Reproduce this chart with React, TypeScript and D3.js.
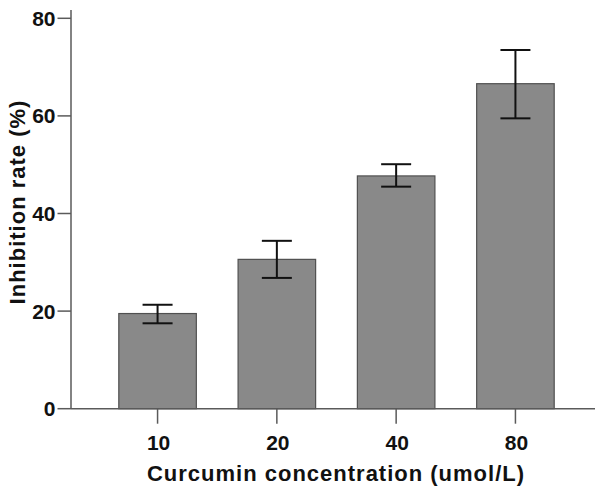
import * as d3 from 'd3';
import { useEffect, useRef } from 'react';

const categories = ['10', '20', '40', '80'];
const means = [19.5, 30.6, 47.7, 66.6];
const lower = [17.5, 26.8, 45.5, 59.5];
const upper = [21.3, 34.4, 50.1, 73.5];
const yTicks = [0, 20, 40, 60, 80];

const W = 600;
const H = 491;

export default function App() {
  const ref = useRef<SVGSVGElement>(null);

  useEffect(() => {
    const svg = d3.select(ref.current);
    svg.selectAll('*').remove();

    const font = '"Liberation Sans", Arial, sans-serif';
    const axisColor = '#5a5a5a';

    const x = d3.scaleBand<string>()
      .domain(categories)
      .range([78, 595])
      .paddingInner(0.35)
      .paddingOuter(0.342);

    const y = d3.scaleLinear().domain([0, 80]).range([408.7, 18.3]);

    const axisX = 71;
    const baseY = y(0);

    // bars
    svg.append('g')
      .selectAll('rect')
      .data(categories)
      .enter()
      .append('rect')
      .attr('x', d => x(d)!)
      .attr('y', (d, i) => y(means[i]))
      .attr('width', x.bandwidth())
      .attr('height', (d, i) => baseY - y(means[i]))
      .attr('fill', '#898989')
      .attr('stroke', '#505050')
      .attr('stroke-width', 1.2);

    // error bars
    const capW = 30;
    const err = svg.append('g').attr('stroke', '#111').attr('stroke-width', 2);
    categories.forEach((c, i) => {
      const cx = x(c)! + x.bandwidth() / 2;
      err.append('line').attr('x1', cx).attr('x2', cx).attr('y1', y(upper[i])).attr('y2', y(lower[i]));
      err.append('line').attr('x1', cx - capW / 2).attr('x2', cx + capW / 2).attr('y1', y(upper[i])).attr('y2', y(upper[i]));
      err.append('line').attr('x1', cx - capW / 2).attr('x2', cx + capW / 2).attr('y1', y(lower[i])).attr('y2', y(lower[i]));
    });

    // y axis
    const ya = svg.append('g').attr('stroke', axisColor).attr('stroke-width', 1.5);
    ya.append('line').attr('x1', axisX).attr('x2', axisX).attr('y1', 10).attr('y2', baseY);
    yTicks.forEach(t => {
      ya.append('line').attr('x1', axisX - 13.5).attr('x2', axisX).attr('y1', y(t)).attr('y2', y(t));
    });
    svg.append('g')
      .selectAll('text')
      .data(yTicks)
      .enter()
      .append('text')
      .attr('x', 55.5)
      .attr('y', d => y(d))
      .attr('dy', '0.36em')
      .attr('text-anchor', 'end')
      .attr('font-family', font)
      .attr('font-weight', 'bold')
      .attr('font-size', 21)
      .attr('fill', '#111')
      .text(d => d);

    // x axis
    const xa = svg.append('g').attr('stroke', axisColor).attr('stroke-width', 1.5);
    xa.append('line').attr('x1', axisX).attr('x2', 595).attr('y1', baseY).attr('y2', baseY);
    categories.forEach(c => {
      const cx = x(c)! + x.bandwidth() / 2;
      xa.append('line').attr('x1', cx).attr('x2', cx).attr('y1', baseY).attr('y2', baseY + 15);
    });
    svg.append('g')
      .selectAll('text')
      .data(categories)
      .enter()
      .append('text')
      .attr('x', d => x(d)! + x.bandwidth() / 2 + 1)
      .attr('y', 450)
      .attr('text-anchor', 'middle')
      .attr('font-family', font)
      .attr('font-weight', 'bold')
      .attr('font-size', 21)
      .attr('fill', '#111')
      .text(d => d);

    // titles
    svg.append('text')
      .attr('x', 336)
      .attr('y', 481)
      .attr('text-anchor', 'middle')
      .attr('font-family', font)
      .attr('font-weight', 'bold')
      .attr('font-size', 22)
      .attr('letter-spacing', 1)
      .attr('fill', '#111')
      .text('Curcumin concentration (umol/L)');

    svg.append('text')
      .attr('transform', 'translate(25,202) rotate(-90)')
      .attr('text-anchor', 'middle')
      .attr('font-family', font)
      .attr('font-weight', 'bold')
      .attr('font-size', 22)
      .attr('letter-spacing', 1)
      .attr('fill', '#111')
      .text('Inhibition rate (%)');
  }, []);

  return (
    <svg
      ref={ref}
      width={W}
      height={H}
      style={{ position: 'absolute', left: 0, top: 0, background: '#fff' }}
    />
  );
}
